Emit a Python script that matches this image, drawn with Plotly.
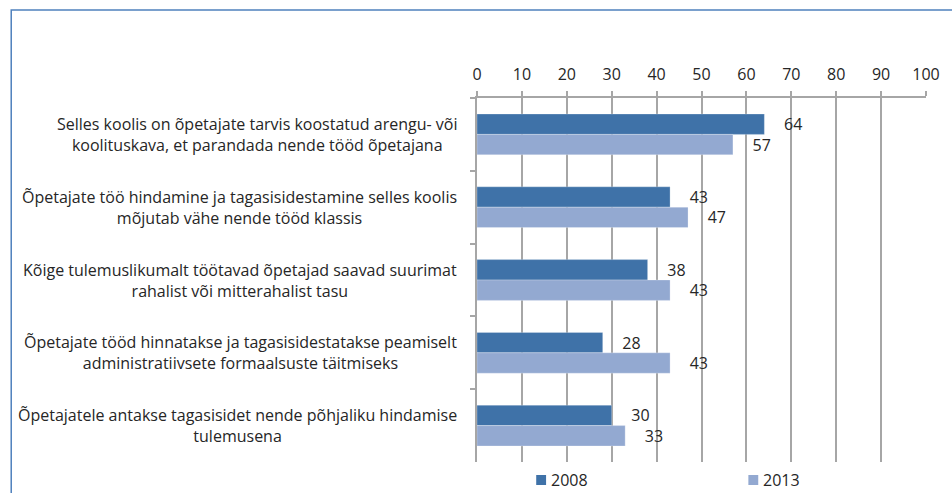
import plotly.graph_objects as go

categories = [
    "Selles koolis on õpetajate tarvis koostatud arengu- või<br>koolituskava, et parandada nende tööd õpetajana",
    "Õpetajate töö hindamine ja tagasisidestamine selles koolis<br>mõjutab vähe nende tööd klassis",
    "Kõige tulemuslikumalt töötavad õpetajad saavad suurimat<br>rahalist või mitterahalist tasu",
    "Õpetajate tööd hinnatakse ja tagasisidestatakse peamiselt<br>administratiivsete formaalsuste täitmiseks",
    "Õpetajatele antakse tagasisidet nende põhjaliku hindamise<br>tulemusena",
]
values_2008 = [64, 43, 38, 28, 30]
values_2013 = [57, 47, 43, 43, 33]
series_names = ["2008", "2013"]
x_ticks = list(range(0, 101, 10))

FONT = "Open Sans"
FS = 16
C2008 = "#3F72A8"
C2013 = "#93A9D1"
GRID = "#A6A6A6"
TXT = "#262626"

W, H = 952, 493
ML, MR, MT, MB = 477, 20, 98, 31
PW, PH = W - ML - MR, H - MT - MB


def px_x(px):
    """pixel column -> paper x"""
    return (px - ML) / PW


def px_y(py):
    """pixel row -> paper y"""
    return (H - MB - py) / PH


# short keys keep the categorical axis tidy; the long texts are drawn as centred annotations
keys = [f"c{i}" for i in range(len(categories))]
colors = [C2008, C2013]

fig = go.Figure()
for name, vals, col in zip(series_names, [values_2008, values_2013], colors):
    fig.add_trace(go.Bar(
        y=keys, x=vals, name=name, orientation="h",
        marker=dict(color=col, line=dict(color="rgba(255,255,255,0.5)", width=0.5)),
        text=vals, texttemplate="\u00a0\u00a0\u00a0\u00a0%{x}", textposition="outside",
        textfont=dict(family=FONT, size=FS, color=TXT),
        constraintext="none", cliponaxis=False, showlegend=False,
    ))

for key, label in zip(keys, categories):
    fig.add_annotation(
        x=px_x(459), xref="paper", xanchor="right",
        y=key, yref="y", yanchor="middle",
        text=label, align="center", showarrow=False,
        font=dict(family=FONT, size=FS, color=TXT),
    )

# legend row below the plot: swatch + series name
legend_left = [537, 752]
for name, col, lx in zip(series_names, colors, legend_left):
    fig.add_shape(type="rect", xref="paper", yref="paper",
                  x0=px_x(lx), x1=px_x(lx + 10), y0=px_y(485), y1=px_y(475),
                  fillcolor=col, line=dict(width=0))
    fig.add_annotation(x=px_x(lx + 13), xref="paper", xanchor="left",
                       y=px_y(480), yref="paper", yanchor="middle",
                       text=name, showarrow=False,
                       font=dict(family=FONT, size=FS, color=TXT))

# outer chart border
fig.add_shape(type="rect", xref="paper", yref="paper",
              x0=px_x(5), x1=px_x(1000), y0=px_y(560), y1=px_y(10),
              line=dict(color="#4F81BD", width=1.5), layer="below")

fig.update_layout(
    width=W, height=H,
    margin=dict(l=ML, r=MR, t=MT, b=MB),
    plot_bgcolor="white", paper_bgcolor="white",
    barmode="group", bargap=0.44, bargroupgap=0,
    font=dict(family=FONT, size=FS, color=TXT),
    xaxis=dict(
        side="top", range=[0, 100], tickvals=x_ticks, ticktext=[str(t) for t in x_ticks],
        showgrid=True, gridcolor=GRID, gridwidth=1.5,
        showline=True, linecolor=GRID, linewidth=1.5,
        ticks="outside", ticklen=5, tickcolor=GRID, tickwidth=1.5,
        ticklabelstandoff=5, zeroline=False, fixedrange=True,
    ),
    yaxis=dict(
        autorange="reversed", showticklabels=False,
        showline=True, linecolor=GRID, linewidth=1.5,
        ticks="outside", tickson="boundaries", ticklen=5, tickcolor=GRID, tickwidth=1.5,
        showgrid=False, fixedrange=True,
    ),
    showlegend=False,
)

fig.write_html("out.html")
